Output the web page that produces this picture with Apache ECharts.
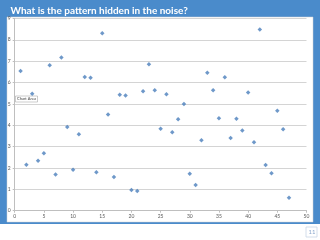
<!DOCTYPE html>
<html lang="en">
<head>
    <meta charset="UTF-8">
    <title>Pattern in the noise</title>
    <style>
        html, body {margin: 0; padding: 0; background: #fff;}
    </style>
</head>
<body>
<div id="container" style="width: 320px; height: 240px"></div>
<script type="text/javascript" src="https://cdn.jsdelivr.net/npm/echarts@6/dist/echarts.min.js"></script>
<script type="text/javascript">
    // x position of each point
    var xs = [1, 2, 3, 4, 5, 6, 7, 8, 9, 10, 11, 12, 13, 14, 15, 16, 17, 18, 19, 20,
        21, 22, 23, 24, 25, 26, 27, 28, 29, 30, 31, 32, 33, 34, 35, 36, 37, 38, 39, 40,
        41, 42, 43, 44, 45, 46, 47];
    // y values
    var ys = [6.54, 2.15, 5.48, 2.34, 2.69, 6.81, 1.70, 7.17, 3.92, 1.92,
        3.58, 6.26, 6.23, 1.80, 8.31, 4.51, 1.58, 5.43, 5.39, 0.97,
        0.92, 5.59, 6.86, 5.64, 3.84, 5.45, 3.67, 4.28, 5.00, 1.73,
        1.20, 3.30, 6.46, 5.64, 4.33, 6.25, 3.40, 4.30, 3.76, 5.54,
        3.20, 8.48, 2.14, 1.75, 4.68, 3.81, 0.61];

    var points = [];
    for (var i = 0; i < xs.length; i++) {
        points.push([xs[i], ys[i]]);
    }

    var labelColor = '#595959';

    option = {
        animation: false,
        backgroundColor: '#ffffff',
        textStyle: {fontFamily: 'Lato'},
        graphic: [
            {type: 'rect', z: -10, silent: true, shape: {x: 0, y: 0, width: 320, height: 224},
                style: {fill: '#4a8bcb'}},
            {type: 'rect', z: -9, silent: true, shape: {x: 7, y: 17, width: 306, height: 205},
                style: {fill: '#ffffff', stroke: '#d0d0d0', lineWidth: 0.5}},
            {type: 'text', left: 10.5, top: 6,
                style: {text: 'What is the pattern hidden in the noise?', fill: '#ffffff',
                    font: 'bold 10px Lato'}},
            {type: 'rect', shape: {x: 15.5, y: 96, width: 22, height: 6},
                style: {fill: '#ffffff', stroke: '#9a9a9a', lineWidth: 0.5}},
            {type: 'text', left: 17, top: 96.8,
                style: {text: 'Chart Area', fill: '#404040', font: '4px Lato'}},
            {type: 'rect', shape: {x: 306, y: 227, width: 11, height: 10},
                style: {fill: '#ffffff', stroke: '#c9d5e6', lineWidth: 0.8}},
            {type: 'text', left: 308.5, top: 229,
                style: {text: '11', fill: '#8aa6cc', font: '6px Lato'}}
        ],
        grid: {left: 14.7, right: 13.5, top: 18.5, bottom: 29.3},
        xAxis: {
            type: 'value',
            min: 0,
            max: 50,
            interval: 5,
            splitLine: {show: false},
            axisLine: {lineStyle: {color: '#bfbfbf', width: 1}},
            axisTick: {show: true, length: 2, lineStyle: {color: '#bfbfbf'}},
            axisLabel: {fontSize: 5, color: labelColor, margin: 3}
        },
        yAxis: {
            type: 'value',
            min: 0,
            max: 9,
            interval: 1,
            splitLine: {lineStyle: {color: '#d4d4d4', width: 1}},
            axisLine: {show: true, lineStyle: {color: '#bfbfbf', width: 1}},
            axisTick: {show: true, length: 2, lineStyle: {color: '#bfbfbf'}},
            axisLabel: {fontSize: 5, color: labelColor, margin: 4}
        },
        series: [
            {
                type: 'scatter',
                symbol: 'diamond',
                symbolSize: 4.5,
                itemStyle: {color: '#4a7ebb'},
                data: points
            }
        ]
    };

    var myChart = echarts.init(document.getElementById('container'));
    myChart.setOption(option);
</script>
</body>
</html>
